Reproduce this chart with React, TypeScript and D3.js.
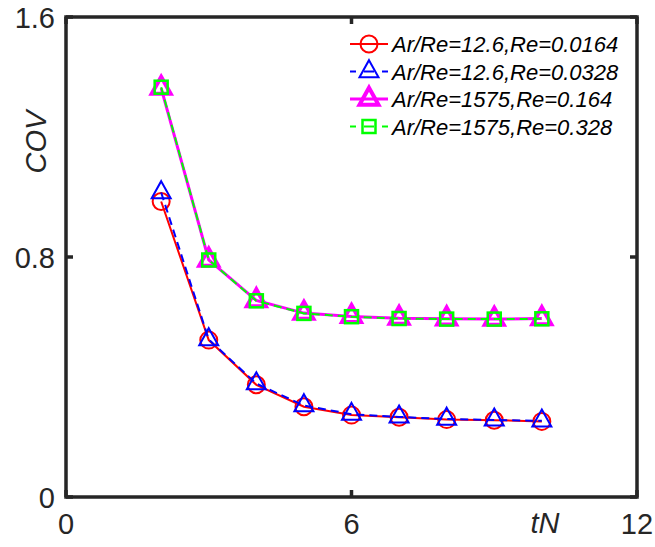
import React from "react";
import * as d3 from "d3";

// Dimensionless time tN and coefficient of variation for each case
const tN = [2, 3, 4, 5, 6, 7, 8, 9, 10];
const covA = [0.985, 0.523, 0.374, 0.301, 0.273, 0.266, 0.258, 0.256, 0.252];
const covB = [1.015, 0.525, 0.378, 0.305, 0.276, 0.267, 0.26, 0.257, 0.254];
const covC = [1.363, 0.79, 0.655, 0.613, 0.602, 0.596, 0.594, 0.593, 0.595];
const covD = [1.366, 0.79, 0.654, 0.612, 0.601, 0.595, 0.593, 0.593, 0.594];

const seriesLabels = [
  "Ar/Re=12.6,Re=0.0164",
  "Ar/Re=12.6,Re=0.0328",
  "Ar/Re=1575,Re=0.164",
  "Ar/Re=1575,Re=0.328",
];

const xTicks = [0, 6, 12];
const yTicks = [0, 0.8, 1.6];
const yTickLabels = ["0", "0.8", "1.6"];

type Marker = "circle" | "triangle" | "square";
type Style = {
  color: string;
  width: number;
  dash?: string;
  marker: Marker;
  markerWidth: number;
};

const styles: Style[] = [
  { color: "#ff0000", width: 2, marker: "circle", markerWidth: 2 },
  { color: "#0000ff", width: 2, dash: "8,5", marker: "triangle", markerWidth: 2 },
  { color: "#ff00ff", width: 3, marker: "triangle", markerWidth: 4 },
  { color: "#00ff00", width: 2, dash: "8,5", marker: "square", markerWidth: 2.5 },
];

const W = 655;
const H = 547;
const left = 66;
const right = 637;
const top = 17;
const bottom = 497;
const FONT = "Arial, 'Liberation Sans', Helvetica, sans-serif";
const AXIS = "#262626";

function MarkerShape({ kind, x, y, s }: { kind: Marker; x: number; y: number; s: Style }) {
  if (kind === "circle") {
    return <circle cx={x} cy={y} r={8.5} fill="none" stroke={s.color} strokeWidth={s.markerWidth} />;
  }
  if (kind === "square") {
    return (
      <rect x={x - 6.5} y={y - 6.5} width={13} height={13} fill="none" stroke={s.color} strokeWidth={s.markerWidth} />
    );
  }
  const w = 19;
  const h = 17;
  const d = `M${x},${y - (2 * h) / 3}L${x + w / 2},${y + h / 3}L${x - w / 2},${y + h / 3}Z`;
  return <path d={d} fill="none" stroke={s.color} strokeWidth={s.markerWidth} strokeLinejoin="miter" />;
}

export default function App() {
  const x = d3.scaleLinear().domain([0, 12]).range([left, right]);
  const y = d3.scaleLinear().domain([0, 1.6]).range([bottom, top]);
  const allSeries = [covA, covB, covC, covD];
  const line = d3
    .line<number>()
    .x((_, i) => x(tN[i]))
    .y((v) => y(v));

  const legendX = 350;
  const legendY0 = 44;
  const legendDy = 27.5;

  return (
    <svg
      width={W}
      height={H}
      style={{ position: "absolute", left: 0, top: 0, background: "#fff" }}
      fontFamily={FONT}
    >
      <rect x={0} y={0} width={W} height={H} fill="#fff" />

      {/* data series: line first, then its markers */}
      {allSeries.map((vals, si) => {
        const s = styles[si];
        return (
          <g key={si}>
            <path
              d={line(vals) || ""}
              fill="none"
              stroke={s.color}
              strokeWidth={s.width}
              strokeDasharray={s.dash}
            />
            {vals.map((v, i) => (
              <MarkerShape key={i} kind={s.marker} x={x(tN[i])} y={y(v)} s={s} />
            ))}
          </g>
        );
      })}

      {/* legend */}
      {seriesLabels.map((lab, i) => {
        const s = styles[i];
        const cy = legendY0 + i * legendDy;
        const mx = legendX + 19;
        return (
          <g key={lab}>
            {s.dash ? (
              <>
                <line x1={legendX} x2={legendX + 6} y1={cy} y2={cy} stroke={s.color} strokeWidth={s.width} />
                <line x1={legendX + 32} x2={legendX + 38} y1={cy} y2={cy} stroke={s.color} strokeWidth={s.width} />
                <line x1={legendX + 14} x2={legendX + 24} y1={cy} y2={cy} stroke={s.color} strokeWidth={s.width} />
              </>
            ) : (
              <line x1={legendX} x2={legendX + 38} y1={cy} y2={cy} stroke={s.color} strokeWidth={s.width} />
            )}
            <MarkerShape kind={s.marker} x={mx} y={cy} s={s} />
            <text x={legendX + 42} y={cy + 8} fontSize={22} fontStyle="italic" fill="#000">
              {lab}
            </text>
          </g>
        );
      })}

      {/* axes box */}
      <rect x={left} y={top} width={right - left} height={bottom - top} fill="none" stroke={AXIS} strokeWidth={3.5} />

      {/* ticks */}
      {xTicks.map((t) => (
        <g key={"x" + t}>
          <line x1={x(t)} x2={x(t)} y1={bottom} y2={bottom - 7} stroke={AXIS} strokeWidth={3.5} />
          <line x1={x(t)} x2={x(t)} y1={top} y2={top + 7} stroke={AXIS} strokeWidth={3.5} />
          <text x={x(t)} y={534} fontSize={29} textAnchor="middle" fill={AXIS}>
            {t}
          </text>
        </g>
      ))}
      {yTicks.map((t, i) => (
        <g key={"y" + t}>
          <line x1={left} x2={left + 7} y1={y(t)} y2={y(t)} stroke={AXIS} strokeWidth={3.5} />
          <line x1={right} x2={right - 7} y1={y(t)} y2={y(t)} stroke={AXIS} strokeWidth={3.5} />
          <text x={55} y={y(t) + 10.5} fontSize={29} textAnchor="end" fill={AXIS}>
            {yTickLabels[i]}
          </text>
        </g>
      ))}

      {/* axis titles */}
      <text x={545} y={533} fontSize={29} fontStyle="italic" textAnchor="middle" fill={AXIS}>
        tN
      </text>
      <text
        transform={`translate(46,142) rotate(-90)`}
        fontSize={29}
        fontStyle="italic"
        textAnchor="middle"
        fill={AXIS}
      >
        COV
      </text>
    </svg>
  );
}
